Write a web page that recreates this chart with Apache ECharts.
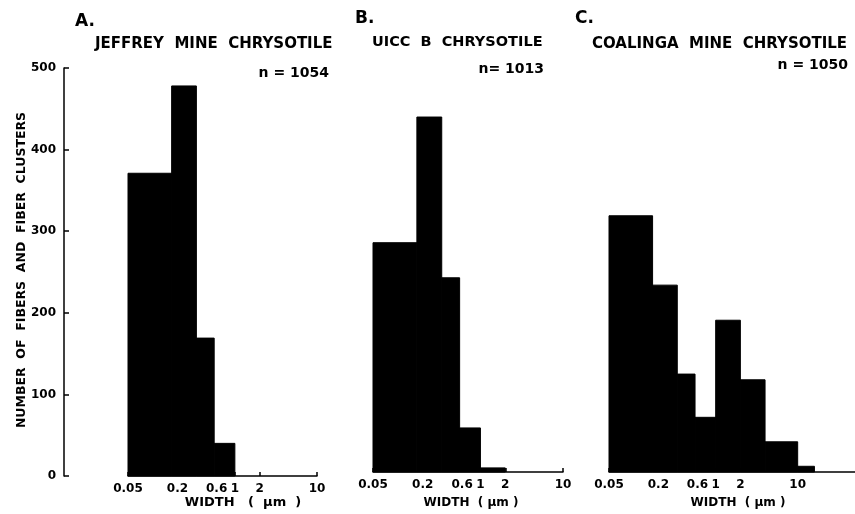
<!DOCTYPE html>
<html>
<head>
<meta charset="utf-8">
<script src="https://cdn.jsdelivr.net/npm/echarts@6/dist/echarts.min.js"></script>
<style>html,body{margin:0;padding:0;background:#fff}#c{width:855px;height:514px}</style>
</head>
<body>
<div id="c"></div>
<script>
// Bin edges (width, µm) and counts
const edgesA = [0.05, 0.17, 0.34, 0.56, 1];
const countsA = [371, 478, 169, 40];
const edgesB = [0.05, 0.17, 0.34, 0.56, 1, 2];
const countsB = [281, 435, 238, 54, 5];
const edgesC = [0.05, 0.17, 0.34, 0.56, 1, 2, 4, 10, 16];
const countsC = [314, 229, 120, 67, 186, 113, 37, 7];
const xTickValues = [0.05, 0.2, 0.6, 1, 2, 10];
const xTickLabels = ['0.05', '0.2', '0.6', '1', '2', '10'];
const yTicks = [0, 100, 200, 300, 400, 500];
const panelLetters = ['A.', 'B.', 'C.'];
const panelTitles = ['JEFFREY  MINE  CHRYSOTILE', 'UICC  B  CHRYSOTILE', 'COALINGA  MINE  CHRYSOTILE'];
const panelN = ['n = 1054', 'n= 1013', 'n = 1050'];
const yTitle = 'NUMBER  OF  FIBERS  AND  FIBER  CLUSTERS';
const xTitles = ['WIDTH   (  \u00b5m  )', 'WIDTH  ( \u00b5m )', 'WIDTH  ( \u00b5m )'];

function bins(edges, counts) {
  return counts.map((c, i) => [edges[i], edges[i + 1], c]);
}

const FONT = 'DejaVu Sans';
const grids = [
  {left: 128, top: 68, width: 189, height: 408},
  {left: 373, top: 64, width: 190, height: 408},
  {left: 609, top: 64, width: 246, height: 408}
];
const xMax = [10, 10, 50];

const labelMap = {};
xTickValues.forEach((v, i) => labelMap[v] = xTickLabels[i]);

const xAxes = grids.map((g, i) => ({
  type: 'log', logBase: 10, gridIndex: i, min: 0.05, max: xMax[i],
  axisLine: {show: true, lineStyle: {color: '#000', width: 1.5}},
  axisTick: {show: true, inside: true, length: 4, lineStyle: {color: '#000', width: 1.5}, customValues: xTickValues},
  axisLabel: {show: true, customValues: xTickValues, formatter: v => labelMap[v] !== undefined ? labelMap[v] : String(v),
    color: '#000', fontFamily: FONT, fontWeight: 'bold', fontSize: 12, margin: 7},
  splitLine: {show: false}, minorTick: {show: false}
}));

const yAxes = grids.map((g, i) => ({
  type: 'value', gridIndex: i, min: 0, max: 500, interval: 100,
  offset: i === 0 ? 64 : 0,
  show: i === 0,
  axisLine: {show: true, lineStyle: {color: '#000', width: 1.5}},
  axisTick: {show: true, inside: true, length: 5, lineStyle: {color: '#000', width: 1.5}},
  axisLabel: {show: true, color: '#000', fontFamily: FONT, fontWeight: 'bold', fontSize: 12, margin: 8},
  splitLine: {show: false}
}));

function renderBar(params, api) {
  const x0 = api.value(0), x1 = api.value(1), v = api.value(2);
  const p0 = api.coord([x0, v]);
  const p1 = api.coord([x1, 0]);
  return {
    type: 'rect',
    shape: {x: p0[0], y: p0[1], width: p1[0] - p0[0], height: p1[1] - p0[1]},
    style: {fill: '#000', stroke: '#000', lineWidth: 1}
  };
}

const allBins = [bins(edgesA, countsA), bins(edgesB, countsB), bins(edgesC, countsC)];
const series = allBins.map((d, i) => ({
  type: 'custom', xAxisIndex: i, yAxisIndex: i, data: d,
  encode: {x: [0, 1], y: 2}, renderItem: renderBar, clip: false, silent: true
}));

const letterPos = [[75, 22], [355, 19], [575, 19]];
const titlePos = [[95, 44], [372, 42], [592, 44]];
const nPos = [[329, 73], [544, 69], [848, 65]];
const xTitlePos = [243, 471, 738];
const titleSizes = [15, 14.5, 15];
const xTitleSizes = [13, 12, 12];

const graphic = [];
for (let i = 0; i < 3; i++) {
  graphic.push({type: 'text', x: letterPos[i][0], y: letterPos[i][1],
    style: {text: panelLetters[i], font: 'bold 17px "' + FONT + '"', fill: '#000', textAlign: 'left', textVerticalAlign: 'middle'}});
  graphic.push({type: 'text', x: titlePos[i][0], y: titlePos[i][1],
    style: {text: panelTitles[i], font: 'bold ' + titleSizes[i] + 'px "' + FONT + '"', fill: '#000', textAlign: 'left', textVerticalAlign: 'middle'}});
  graphic.push({type: 'text', x: nPos[i][0], y: nPos[i][1],
    style: {text: panelN[i], font: 'bold 14px "' + FONT + '"', fill: '#000', textAlign: 'right', textVerticalAlign: 'middle'}});
  graphic.push({type: 'text', x: xTitlePos[i], y: 503,
    style: {text: xTitles[i], font: 'bold ' + xTitleSizes[i] + 'px "' + FONT + '"', fill: '#000', textAlign: 'center', textVerticalAlign: 'middle'}});
}
graphic.push({type: 'text', x: 22, y: 270, rotation: Math.PI / 2,
  style: {text: yTitle, font: 'bold 12.5px "' + FONT + '"', fill: '#000', textAlign: 'center', textVerticalAlign: 'middle'}});

const chart = echarts.init(document.getElementById('c'), null, {renderer: 'canvas'});
chart.setOption({
  animation: false,
  backgroundColor: '#fff',
  grid: grids,
  xAxis: xAxes,
  yAxis: yAxes,
  series: series,
  graphic: graphic
});
</script>
</body>
</html>
